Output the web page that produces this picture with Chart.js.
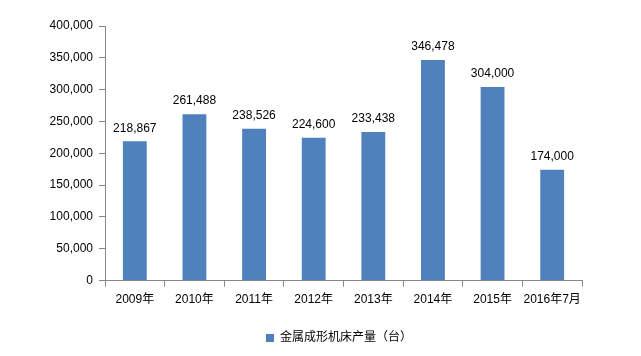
<!DOCTYPE html>
<html><head><meta charset="utf-8">
<script src="https://cdn.jsdelivr.net/npm/chart.js@4/dist/chart.umd.min.js"></script>
<style>html,body{margin:0;padding:0;background:#fff}#w{width:641px;height:356px}</style>
</head><body><div id="w"><canvas id="c" width="641" height="356"></canvas></div>
<script>
const categories = ["2009年","2010年","2011年","2012年","2013年","2014年","2015年","2016年7月"];
const values = [218867, 261488, 238526, 224600, 233438, 346478, 304000, 174000];
const seriesName = "金属成形机床产量（台）";
const yTicks = [0,50000,100000,150000,200000,250000,300000,350000,400000];

const FONT = "'Liberation Sans','Noto Sans CJK SC',sans-serif";
const fmt = v => v.toLocaleString('en-US');
const BAR_COLOR = '#4F81BD';

const labelPlugin = {
  id:'lbl',
  afterDatasetsDraw(chart){
    const ctx = chart.ctx;
    const meta = chart.getDatasetMeta(0);
    ctx.save();
    ctx.font = "12px " + FONT;
    ctx.fillStyle = "#000";
    ctx.textAlign = "center";
    ctx.textBaseline = "bottom";
    meta.data.forEach((bar,i)=>{
      ctx.fillText(fmt(values[i]), bar.x, bar.y - 7);
    });
    ctx.restore();
  }
};

const legendPlugin = {
  id:'lgd',
  afterDraw(chart){
    const ctx = chart.ctx;
    ctx.save();
    ctx.font = "12px " + FONT;
    const label = chart.data.datasets[0].label;
    const tw = ctx.measureText(label).width;
    const cx = 339, cy = 338;
    const total = 8 + 6 + tw;
    const x0 = cx - total/2;
    ctx.fillStyle = BAR_COLOR;
    ctx.fillRect(x0, cy - 4, 8, 8);
    ctx.fillStyle = '#000';
    ctx.textBaseline = 'middle';
    ctx.textAlign = 'left';
    ctx.fillText(label, x0 + 14, cy);
    ctx.restore();
  }
};

new Chart(document.getElementById('c'),{
  type:'bar',
  data:{labels:categories,datasets:[{label:seriesName,data:values,backgroundColor:BAR_COLOR,categoryPercentage:0.8,barPercentage:0.5}]},
  options:{
    responsive:false,animation:false,
    layout:{padding:{top:26,right:59,bottom:43,left:0}},
    plugins:{
      legend:{display:false},
      tooltip:{enabled:false}
    },
    scales:{
      x:{
        grid:{offset:true,drawOnChartArea:false,tickLength:6,color:'#868686'},
        border:{color:'#868686'},
        ticks:{color:'#000',font:{family:FONT,size:12},padding:6,maxRotation:0,autoSkip:false}
      },
      y:{
        min:0,max:400000,
        afterBuildTicks(s){s.ticks = yTicks.map(v=>({value:v}));},
        afterFit(s){s.width = 105;},
        grid:{drawOnChartArea:false,tickLength:6,color:'#868686'},
        border:{color:'#868686'},
        ticks:{color:'#000',font:{family:FONT,size:12},padding:6,callback:v=>fmt(v)}
      }
    }
  },
  plugins:[labelPlugin, legendPlugin]
});
</script></body></html>
